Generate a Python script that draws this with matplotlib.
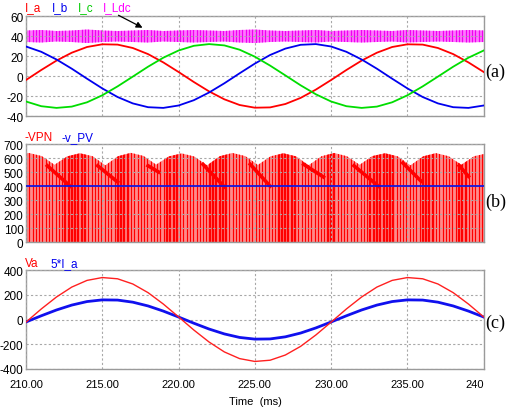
import numpy as np
import matplotlib
matplotlib.use("Agg")
import matplotlib.pyplot as plt
from matplotlib.patches import Polygon

plt.rcParams['font.family'] = ['Liberation Sans', 'DejaVu Sans']
plt.rcParams['axes.unicode_minus'] = False

W, H = 510, 410

# time grid of the sampled curves (ms)
t_ms = list(range(210, 241))

# (a) phase currents and dc-link current band
i_a = [-4.0, 6.0, 15.4, 23.3, 29.0, 31.7, 31.4, 28.0, 21.9, 13.6, 4.0,
       -6.0, -15.4, -23.3, -29.0, -31.7, -31.4, -28.0, -21.9, -13.6, -4.0,
       6.0, 15.4, 23.3, 29.0, 31.7, 31.4, 28.0, 21.9, 13.6, 4.0]
i_b = [29.5, 24.2, 16.5, 7.3, -2.7, -12.4, -21.0, -27.4, -31.2, -31.9, -29.5,
       -24.2, -16.5, -7.3, 2.7, 12.4, 21.0, 27.4, 31.2, 31.9, 29.5,
       24.2, 16.5, 7.3, -2.7, -12.4, -21.0, -27.4, -31.2, -31.9, -29.5]
i_c = [-25.5, -30.2, -31.9, -30.6, -26.3, -19.3, -10.4, -0.6, 9.3, 18.3, 25.5,
       30.2, 31.9, 30.6, 26.3, 19.3, 10.4, 0.6, -9.3, -18.3, -25.5,
       -30.2, -31.9, -30.6, -26.3, -19.3, -10.4, -0.6, 9.3, 18.3, 25.5]
i_ldc_hi = [45.5, 46, 45, 45.5, 46.5, 45.5, 45, 45.5, 46, 45, 45.5, 46, 45.5, 45,
            46, 46.5, 45.5, 45, 45.5, 46, 45, 45.5, 46, 45.5, 45, 46, 45.5, 45,
            45.5, 46, 45.5]
i_ldc_lo = [34, 33.5, 34.5, 34, 33, 34, 34.5, 34, 33.5, 34.5, 34, 33.5, 34, 34.5,
            33.5, 33, 34, 34.5, 34, 33.5, 34.5, 34, 33.5, 34, 34.5, 33.5, 34, 34.5,
            34, 33.5, 34]

# (b) -VPN envelope (peaks / quarter points / valleys) and -v_PV
env_t = [210.0, 210.2, 211.03, 211.87, 212.7, 213.53, 214.37, 215.2, 216.03,
         216.87, 217.7, 218.53, 219.37, 220.2, 221.03, 221.87, 222.7, 223.53,
         224.37, 225.2, 226.03, 226.87, 227.7, 228.53, 229.37, 230.2, 231.03,
         231.87, 232.7, 233.53, 234.37, 235.2, 236.03, 236.87, 237.7, 238.53,
         239.37, 240.2]
env_v = [633, 636, 614, 552, 612, 634, 613, 548, 613, 637, 615, 553, 612, 633,
         611, 548, 613, 636, 614, 551, 612, 634, 612, 549, 613, 636, 613, 552,
         614, 634, 612, 548, 612, 635, 613, 552, 613, 633]
seg_t0 = [211.4, 214.7, 218.0, 221.6, 224.7, 228.2, 231.5, 234.7, 238.4]
seg_v0 = [545, 545, 545, 555, 555, 555, 545, 565, 545]
seg_t1 = [212.9, 216.0, 218.7, 223.0, 226.0, 229.5, 233.1, 235.9, 239.0]
seg_v1 = [400, 430, 500, 395, 400, 465, 400, 435, 470]
dark_t0 = [212.4, 216.0, 219.2, 221.9, 226.4, 229.7, 232.5, 236.0, 238.2]
dark_t1 = [213.9, 216.8, 219.9, 223.2, 227.8, 230.4, 234.1, 236.7, 238.9]
pwm_period = 0.215
pv_t = [210, 240.2]
pv_v = [400, 400]

# (c) phase voltage
v_a = [-21, 85, 182, 262, 316, 339, 329, 287, 217, 125, 21,
       -85, -182, -262, -316, -339, -329, -287, -217, -125, -21,
       85, 182, 262, 316, 339, 329, 287, 217, 125, 21]
i_a5 = [5 * v for v in i_a]

x_ticks = [210, 215, 220, 225, 230, 235, 240]
x_labels = ['210.00', '215.00', '220.00', '225.00', '230.00', '235.00', '240']


def box(x0, y0, x1, y1):
    return [x0 / W, 1 - y1 / H, (x1 - x0) / W, (y1 - y0) / H]


def style(ax, yticks, bottom=False):
    ax.set_xlim(210, 240.02)
    ax.set_ylim(yticks[0], yticks[-1])
    ax.set_yticks(yticks)
    ax.set_xticks(x_ticks)
    ax.grid(True, color='#a8a8a8', linestyle=(0, (2, 2)), linewidth=0.8)
    ax.set_axisbelow(False)
    for s in ax.spines.values():
        s.set_color('#9a9a9a')
        s.set_linewidth(1.0)
    ax.tick_params(length=0, labelsize=8.5, pad=1.8)
    ax.tick_params(axis='x', labelsize=8, pad=7)
    if bottom:
        ax.set_xticklabels(x_labels)
        ax.get_xticklabels()[-1].set_ha('right')
    else:
        ax.set_xticklabels([])


fig = plt.figure(figsize=(W / 100, H / 100), dpi=100)

# ---- (a)
ax1 = fig.add_axes(box(26, 17, 484, 117))
band = Polygon(np.column_stack([t_ms + t_ms[::-1], i_ldc_hi + i_ldc_lo[::-1]]),
               closed=True, facecolor='#ff78ff', edgecolor='none', zorder=2)
ax1.add_patch(band)
rip = ax1.vlines(np.arange(210, 240.2, pwm_period), 30, 50, color='#f000f0',
                 linewidth=0.9, zorder=2)
rip.set_clip_path(band)
ax1.plot(t_ms, i_a, color='#ff0000', lw=1.3, zorder=3)
ax1.plot(t_ms, i_b, color='#0000ee', lw=1.3, zorder=3)
ax1.plot(t_ms, i_c, color='#00dd00', lw=1.3, zorder=3)
style(ax1, [-40, -20, 0, 20, 40, 60])
ax1.annotate('', xy=(217.8, 47), xytext=(215.9, 62), annotation_clip=False,
             arrowprops=dict(arrowstyle='-|>', color='black', lw=0.9,
                             mutation_scale=9))

# ---- (b)
ax2 = fig.add_axes(box(26, 145, 484, 243.3))
env = Polygon(np.column_stack([env_t + [env_t[-1], env_t[0]], env_v + [0, 0]]),
              closed=True, facecolor='#ff8a8a', edgecolor='none', zorder=2)
ax2.add_patch(env)
pulses = np.arange(210, 240.2, pwm_period)
widths = [1.7 if any(a <= p <= b for a, b in zip(dark_t0, dark_t1)) else 0.85
          for p in pulses]
stripes = ax2.vlines(pulses, 0, 700, color='#ff0000', linewidths=widths, zorder=2)
stripes.set_clip_path(env)
for a, va0, b, vb1 in zip(seg_t0, seg_v0, seg_t1, seg_v1):
    ax2.plot([a, b], [va0, vb1], color='#ff0000', lw=2.6, zorder=3)
ax2.plot(pv_t, pv_v, color='#1515dd', lw=1.3, zorder=4)
style(ax2, [0, 100, 200, 300, 400, 500, 600, 700])

# ---- (c)
ax3 = fig.add_axes(box(26, 271, 484, 370))
ax3.plot(t_ms, i_a5, color='#1010ee', lw=2.0, zorder=3)
ax3.plot(t_ms, v_a, color='#ff2020', lw=1.0, zorder=3)
style(ax3, [-400, -200, 0, 200, 400], bottom=True)


# series names above each panel
def names(y, items):
    for x, s, c in items:
        fig.text(x / W, 1 - y / H, s, color=c, fontsize=8.5, va='baseline')


names(11, [(25, 'I_a', '#ff0000'), (52, 'I_b', '#0000ee'),
           (78, 'I_c', '#00cc00'), (103, 'I_Ldc', '#ff00ff')])
names(141, [(25, '-VPN', '#ff0000'), (62, '-v_PV', '#0000ee')])
names(267, [(25, 'Va', '#ff0000'), (50, '5*I_a', '#0000ee')])

for y, s in [(72, '(a)'), (202, '(b)'), (323, '(c)')]:
    fig.text(485 / W, 1 - y / H, s, fontsize=13, family='Liberation Serif',
             va='center', ha='left')

fig.text(255 / W, 1 - 402 / H, 'Time  (ms)', fontsize=8, ha='center', va='center')

fig.savefig('out.png', dpi=100)
